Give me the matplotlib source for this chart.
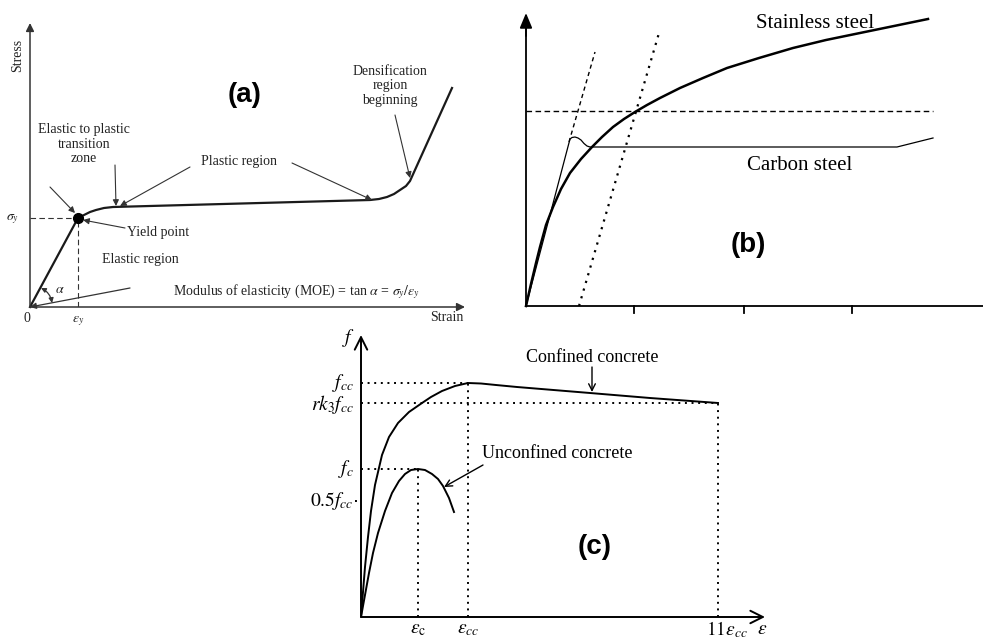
"""
Three schematic stress-strain curves: (a) cellular material, (b) stainless vs carbon
steel, (c) confined vs unconfined concrete.
"""
import matplotlib
matplotlib.use('Agg')
import matplotlib.pyplot as plt

plt.rcParams['font.family'] = ['Liberation Serif', 'DejaVu Serif']
plt.rcParams['mathtext.fontset'] = 'stix'

W, H = 983, 639

# ---- (a) values (strain, stress in drawing units)
a_strain = [0, 48, 54, 60, 66, 74, 83, 340, 349, 357, 364, 370, 376, 380, 422]
a_stress = [0, 89, 92, 95, 97, 99, 100, 107, 108, 110, 113, 117, 121, 126, 219]
a_yield = (48, 89)
a_moe_line = ([1, 100], [0.5, 19])

# ---- (b)
b_ss_strain = [0, 5, 10, 14, 20, 27, 35, 44, 55, 66, 76, 87, 98, 109, 121, 134,
               154, 177, 201, 233, 267, 300, 334, 368, 402]
b_ss_stress = [0, 22, 43, 59, 81, 99, 117, 133, 147, 159, 169, 179, 187, 194, 201, 208,
               218, 228, 238, 248, 258, 266, 273, 280, 287]
b_cs_strain = [0, 44, 46, 49, 52, 55, 58, 61, 64, 371, 407]
b_cs_stress = [0, 167, 168.5, 169, 168, 166, 162.5, 160, 159, 159, 168]
b_proof = 195
b_elastic_ext = ([43, 69], [164, 254])
b_offset = ([53, 133], [0, 273])
b_ticks = [108, 218, 326]

# ---- (c)
c_conf_x = [0, 4, 7, 10, 14, 21, 28, 37, 48, 61, 70, 81, 94, 107, 120, 135, 156,
            229, 289, 357]
c_conf_y = [0, 50, 80, 106, 132, 162, 180, 194, 205, 214, 220, 226, 231, 234, 233.5,
            232, 230, 224, 219, 214]
c_unc_x = [0, 4, 8, 12, 17, 24, 31, 38, 44, 50, 57, 64, 71, 77, 82, 88, 93]
c_unc_y = [0, 22, 44, 64, 84, 106, 124, 136, 143, 147, 148, 147, 143, 138, 131, 119, 105]
c_fcc, c_rk3, c_fc, c_half = 234, 214, 148, 116
c_eps_c, c_eps_cc, c_eps_11 = 57, 107, 357

fig = plt.figure(figsize=(W / 100, H / 100), dpi=100)


def panel(ox, oy, w, h):
    # axes whose origin sits at pixel (ox, oy), one unit per pixel
    ax = fig.add_axes((ox / W, 1 - oy / H, w / W, h / H))
    ax.set_xlim(0, w)
    ax.set_ylim(0, h)
    ax.axis('off')
    return ax


def arrow(ax, xy, xytext, color='k', style='-|>', ms=10, lw=0.9, cs=None):
    props = dict(arrowstyle=style, color=color, lw=lw, mutation_scale=ms,
                 shrinkA=0, shrinkB=0)
    if cs:
        props['connectionstyle'] = cs
    ax.annotate('', xy=xy, xytext=xytext, arrowprops=props, annotation_clip=False)


# ================= (a)
ga = '#333333'
axa = panel(30, 307, 435, 284)
arrow(axa, (0, 284), (0, 0), color=ga, ms=12, lw=1.1)
arrow(axa, (435, 0), (0, 0), color=ga, ms=12, lw=1.1)
axa.plot(a_strain, a_stress, color='#1a1a1a', lw=1.6, clip_on=False,
         solid_joinstyle='round')
axa.plot([0, a_yield[0]], [a_yield[1], a_yield[1]], color=ga, lw=0.8, ls=(0, (5, 3)))
axa.plot([a_yield[0], a_yield[0]], [0, a_yield[1]], color=ga, lw=0.8, ls=(0, (5, 3)))
axa.plot(*a_yield, 'o', color='k', ms=7)
arrow(axa, (0, 0), (a_moe_line[0][1], a_moe_line[1][1]), color=ga, ms=9, lw=0.9)
arrow(axa, (22, 4), (11, 19), color=ga, style='<|-|>', ms=7, lw=0.9, cs='arc3,rad=-0.25')

ta = dict(color='#222222', fontsize=10)
axa.text(-12, 252, 'Stress', rotation=90, ha='center', va='center', **ta)
axa.text(417, -10, 'Strain', ha='center', va='center', **ta)
axa.text(-3, -11, '0', ha='center', va='center', **ta)
axa.text(48, -14, r'$\varepsilon_y$', ha='center', va='center', **ta)
axa.text(-17, 88, r'$\sigma_y$', ha='center', va='center', **ta)
axa.text(30, 18, r'$\alpha$', ha='center', va='center', **ta)
axa.text(360, 221, 'Densification\nregion\nbeginning', ha='center', va='center',
         linespacing=1.15, **ta)
axa.text(54, 163, 'Elastic to plastic\ntransition\nzone', ha='center', va='center',
         linespacing=1.15, **ta)
axa.text(209, 146, 'Plastic region', ha='center', va='center', **ta)
axa.text(128, 75, 'Yield point', ha='center', va='center', **ta)
axa.text(110, 48, 'Elastic region', ha='center', va='center', **ta)
axa.text(267, 15, r'Modulus of elasticity (MOE) = tan $\alpha$ = $\sigma_y/\varepsilon_y$',
         ha='center', va='center', **ta)
arrow(axa, (380, 129), (365, 192), color=ga, ms=9, lw=0.8)
arrow(axa, (86, 101), (85, 142), color=ga, ms=9, lw=0.8)
arrow(axa, (90, 101), (160, 140), color=ga, ms=9, lw=0.8)
arrow(axa, (342, 107), (262, 144), color=ga, ms=9, lw=0.8)
arrow(axa, (45, 94), (20, 120), color=ga, ms=9, lw=0.8)
arrow(axa, (53, 87), (95, 79), color=ga, ms=9, lw=0.8)
axa.text(215, 212, '(a)', fontsize=20, fontweight='bold', family='Liberation Sans',
         ha='center', va='center')

# ================= (b)
axb = panel(526, 306, 457, 293)
axb.plot([0, 0], [0, 282], color='k', lw=1.3, clip_on=False)
arrow(axb, (0, 293), (0, 270), style='-|>,head_length=0.6,head_width=0.25', ms=15, lw=1.3)
axb.plot([0, 470], [0, 0], color='k', lw=1.3, clip_on=False)
for t in b_ticks:
    axb.plot([t, t], [0, -7], color='k', lw=1.3, clip_on=False)
axb.plot(b_ss_strain, b_ss_stress, color='k', lw=1.8, clip_on=False,
         solid_joinstyle='round')
axb.plot(b_cs_strain, b_cs_stress, color='k', lw=0.9, clip_on=False)
axb.plot([0, 407], [b_proof, b_proof], color='k', lw=1.0, ls=(0, (4, 2.5)))
axb.plot(*b_elastic_ext, color='k', lw=1.0, ls=(0, (3, 2.5)))
axb.plot(*b_offset, color='k', lw=1.6, ls=(0, (1, 2.6)))
axb.text(289, 283, 'Stainless steel', fontsize=15, ha='center', va='center')
axb.text(274, 140, 'Carbon steel', fontsize=15, ha='center', va='center')
axb.text(222, 61, '(b)', fontsize=20, fontweight='bold', family='Liberation Sans',
         ha='center', va='center')

# ================= (c)
axc = panel(361, 617, 404, 282)
arrow(axc, (0, 282), (0, 0), style='->,head_length=0.5,head_width=0.25', ms=18, lw=1.4)
arrow(axc, (404, 0), (0, 0), style='->,head_length=0.5,head_width=0.25', ms=18, lw=1.4)
axc.plot(c_conf_x, c_conf_y, color='k', lw=1.4, solid_joinstyle='round')
axc.plot(c_unc_x, c_unc_y, color='k', lw=1.4, solid_joinstyle='round')
dot = dict(color='k', lw=1.4, ls=(0, (1, 2.4)), clip_on=False)
axc.plot([0, c_eps_cc], [c_fcc, c_fcc], **dot)
axc.plot([0, c_eps_11], [c_rk3, c_rk3], **dot)
axc.plot([0, c_eps_c], [c_fc, c_fc], **dot)
axc.plot([-6, 0], [c_half, c_half], **dot)
axc.plot([c_eps_c, c_eps_c], [0, c_fc], **dot)
axc.plot([c_eps_cc, c_eps_cc], [0, c_fcc], **dot)
axc.plot([c_eps_11, c_eps_11], [0, c_rk3], **dot)

tc = dict(fontsize=14, va='center')
axc.text(-7, c_fcc, r'$f_{cc}$', ha='right', **tc)
axc.text(-7, c_rk3 - 1, r'$rk_3f_{cc}$', ha='right', **tc)
axc.text(-7, c_fc, r'$f_c$', ha='right', **tc)
axc.text(-7, c_half, r'$0.5f_{cc}$', ha='right', **tc)
axc.text(-12, 279, r'$f$', ha='center', **tc)
axc.text(c_eps_c, -13, r'$\varepsilon_{\rm c}$', ha='center', **tc)
axc.text(c_eps_cc, -13, r'$\varepsilon_{cc}$', ha='center', **tc)
axc.text(c_eps_11 + 9, -13, r'$11\varepsilon_{cc}$', ha='center', **tc)
axc.text(401, -13, r'$\varepsilon$', ha='center', **tc)
axc.text(231, 260, 'Confined concrete', fontsize=13, ha='center', va='center')
axc.text(196, 164, 'Unconfined concrete', fontsize=13, ha='center', va='center')
arrow(axc, (231, 225), (231, 250), style='->', ms=12, lw=1.0)
arrow(axc, (83, 130), (122, 152), style='->', ms=12, lw=1.0)
axc.text(234, 70, '(c)', fontsize=20, fontweight='bold', family='Liberation Sans',
         ha='center', va='center')

fig.savefig('out.png', dpi=100)
